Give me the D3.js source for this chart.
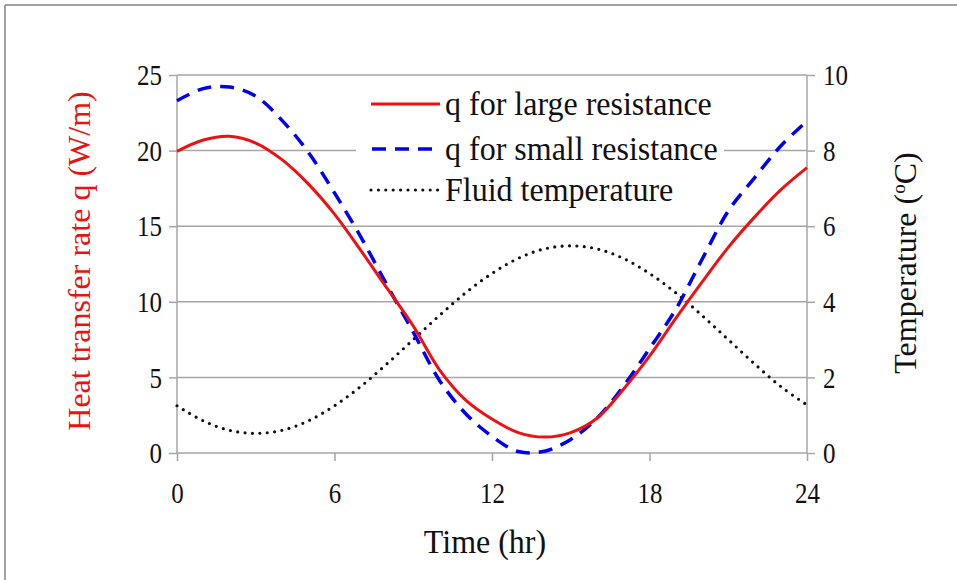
<!DOCTYPE html>
<html>
<head>
<meta charset="utf-8">
<script src="https://cdn.jsdelivr.net/npm/d3@7/dist/d3.min.js"></script>
<style>
  html, body { margin: 0; padding: 0; background: #fff; }
  svg { display: block; }
  text { font-family: "Liberation Serif", "Times New Roman", serif; }
</style>
</head>
<body>
<svg id="chart" width="957" height="580"></svg>
<script>
// ---- data ----
const hours = [0,1,2,3,4,5,6,7,8,9,10,11,12,13,14,15,16,17,18,19,20,21,22,23,24];
const qLarge = [19.95,20.7,20.95,20.5,19.4,17.8,15.8,13.4,10.9,8.4,5.5,3.5,2.25,1.35,1.05,1.35,2.3,4.2,6.4,8.9,11.3,13.6,15.6,17.4,18.87];
const qSmall = [23.3,24.1,24.2,23.6,22.0,19.9,17.2,14.3,11.1,8.0,4.8,2.6,1.1,0.1,0.12,0.9,2.3,4.4,6.9,9.5,12.8,16.0,18.2,20.3,21.96];
const fluidT = [1.25,0.85,0.6,0.52,0.6,0.85,1.25,1.76,2.36,3.0,3.64,4.24,4.75,5.15,5.4,5.48,5.4,5.15,4.75,4.24,3.64,3.0,2.36,1.76,1.27];
const xTicks = [0,6,12,18,24];
const yLeftTicks = [0,5,10,15,20,25];
const yRightTicks = [0,2,4,6,8,10];
const legendLabels = ["q for large resistance","q for small resistance","Fluid temperature"];

// ---- layout ----
const svg = d3.select("#chart");
const L = 177, R = 807, T = 75, B = 453;
const x = d3.scaleLinear().domain([0,24]).range([L,R]);
const yL = d3.scaleLinear().domain([0,25]).range([B,T]);
const yR = d3.scaleLinear().domain([0,10]).range([B,T]);
const gridColor = "#a6a6a6";
const tickFs = 25, tickSy = 1.22;
const fs = 32, sy = 1.08;

svg.append("rect").attr("width",957).attr("height",580).attr("fill","#fff");
// outer frame
svg.append("line").attr("x1",5).attr("x2",957).attr("y1",5).attr("y2",5).attr("stroke","#a0a0a0").attr("stroke-width",2);
svg.append("line").attr("x1",5).attr("x2",5).attr("y1",5).attr("y2",580).attr("stroke","#a0a0a0").attr("stroke-width",2);

// gridlines
svg.append("g").selectAll("line").data(yLeftTicks.filter(d=>d>0)).join("line")
  .attr("x1",L).attr("x2",R).attr("y1",d=>yL(d)).attr("y2",d=>yL(d))
  .attr("stroke",gridColor).attr("stroke-width",1.5);

// axes
const axL = svg.append("g").attr("transform",`translate(${L},0)`)
  .call(d3.axisLeft(yL).tickValues(yLeftTicks).tickSize(8).tickPadding(7).tickFormat(d3.format("d")));
const axR = svg.append("g").attr("transform",`translate(${R},0)`)
  .call(d3.axisRight(yR).tickValues(yRightTicks).tickSize(8).tickPadding(8).tickFormat(d3.format("d")));
const axB = svg.append("g").attr("transform",`translate(0,${B})`)
  .call(d3.axisBottom(x).tickValues(xTicks).tickSize(8).tickPadding(15).tickFormat(d3.format("d")));
[axL,axR,axB].forEach(a=>{
  a.select(".domain").attr("stroke",gridColor).attr("stroke-width",1.5);
  a.selectAll(".tick line").attr("stroke",gridColor).attr("stroke-width",1.5);
  a.selectAll("text").attr("font-size",tickFs).attr("fill","#111")
   .attr("transform",`scale(1,${tickSy})`)
   .style("font-family",'"Liberation Serif", serif');
});
axB.select(".domain").attr("d",`M${L},0H${R}`);
axL.select(".domain").attr("d",`M0,${B}V${T}`);
axR.select(".domain").attr("d",`M0,${B}V${T}`);

// legend background (covers gridline)
svg.append("rect").attr("x",356).attr("y",86).attr("width",368).attr("height",122).attr("fill","#fff");

// lines
const lineL = d3.line().x((d,i)=>x(hours[i])).y(d=>yL(d)).curve(d3.curveCatmullRom.alpha(0.5));
const lineR = d3.line().x((d,i)=>x(hours[i])).y(d=>yR(d)).curve(d3.curveCatmullRom.alpha(0.5));

svg.append("path").attr("d",lineR(fluidT)).attr("fill","none").attr("stroke","#111")
  .attr("stroke-width",3.2).attr("stroke-linecap","round").attr("stroke-dasharray","0 7.4");
svg.append("path").attr("d",lineL(qSmall)).attr("fill","none").attr("stroke","#0000ee")
  .attr("stroke-width",3.5).attr("stroke-dasharray","14 9");
svg.append("path").attr("d",lineL(qLarge)).attr("fill","none").attr("stroke","#ee1111")
  .attr("stroke-width",3);

// legend
const legY = [104,149,190];
const styles = [
  {stroke:"#ee1111", w:3, dash:null, cap:"butt"},
  {stroke:"#0000ee", w:3.5, dash:"14 9", cap:"butt"},
  {stroke:"#111", w:3.2, dash:"0 7.4", cap:"round"}
];
legendLabels.forEach((lab,i)=>{
  const s = styles[i];
  const ln = svg.append("line").attr("x1", i===1?372:371).attr("x2",440).attr("y1",legY[i]).attr("y2",legY[i])
    .attr("stroke",s.stroke).attr("stroke-width",s.w).attr("stroke-linecap",s.cap);
  if (s.dash) ln.attr("stroke-dasharray",s.dash);
  svg.append("text").attr("transform",`translate(445,${legY[i]}) scale(1,${sy})`).attr("dy","0.33em")
    .attr("font-size",fs).attr("fill","#111").text(lab);
});

// axis titles
svg.append("text").attr("transform",`translate(485,553) scale(1,${sy})`).attr("text-anchor","middle")
  .attr("font-size",fs).attr("fill","#111").text("Time (hr)");
svg.append("text").attr("transform","translate(79,261) rotate(-90)").attr("text-anchor","middle")
  .attr("dy","0.35em").attr("font-size",fs).attr("fill","#ee1111").text("Heat transfer rate q (W/m)");
const rt = svg.append("text").attr("transform","translate(905,263) rotate(-90)").attr("text-anchor","middle")
  .attr("dy","0.35em").attr("font-size",fs).attr("fill","#111");
rt.append("tspan").text("Temperature (");
rt.append("tspan").attr("font-size",19).attr("dy","-11").text("o");
rt.append("tspan").attr("dy","11").text("C)");
</script>
</body>
</html>
